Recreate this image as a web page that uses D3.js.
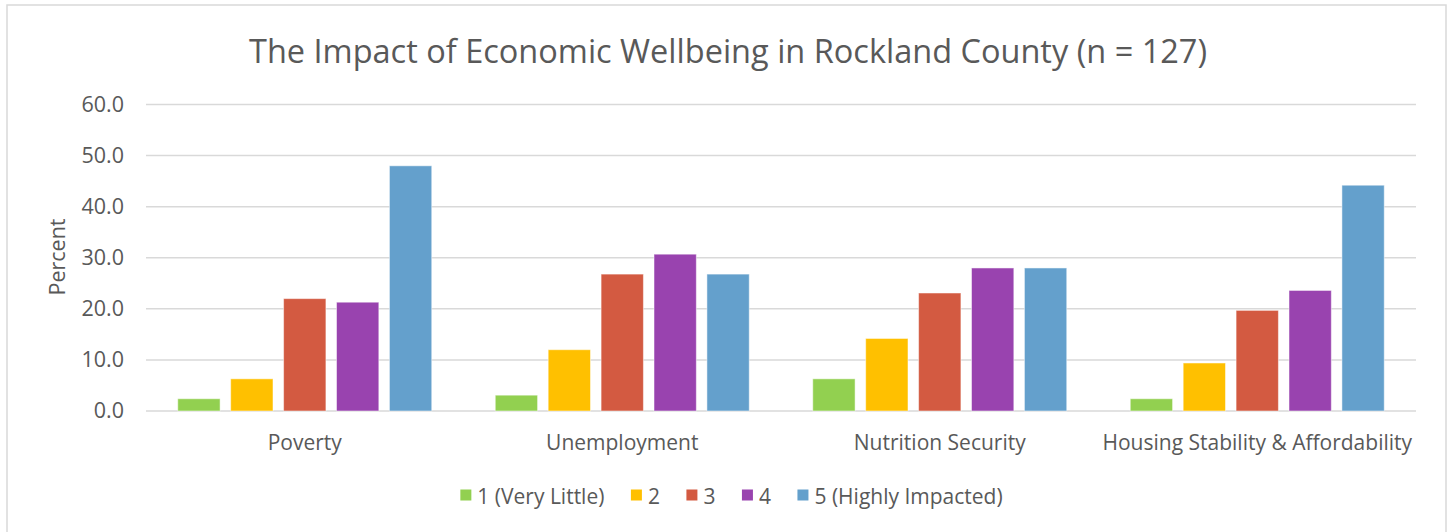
<!DOCTYPE html>
<html>
<head>
<meta charset="utf-8">
<script src="https://cdn.jsdelivr.net/npm/d3@7"></script>
<style>
  html, body { margin: 0; padding: 0; background: #fff; }
  svg { display: block; }
  text { font-family: "Open Sans", "Noto Sans", sans-serif; fill: #595959; }
</style>
</head>
<body>
<svg id="chart" width="1450" height="532"></svg>
<script>
const title = "The Impact of Economic Wellbeing in Rockland County (n = 127)";
const categories = ["Poverty", "Unemployment", "Nutrition Security", "Housing Stability & Affordability"];
const seriesNames = ["1 (Very Little)", "2", "3", "4", "5 (Highly Impacted)"];
const seriesColors = ["#92D050", "#FFC000", "#D35A41", "#9943AF", "#64A0CC"];
const s1 = [2.4, 3.1, 6.3, 2.4];
const s2 = [6.3, 12.0, 14.2, 9.4];
const s3 = [22.0, 26.8, 23.1, 19.7];
const s4 = [21.3, 30.7, 28.0, 23.6];
const s5 = [48.0, 26.8, 28.0, 44.2];
const seriesValues = [s1, s2, s3, s4, s5];
const yTicks = [0, 10, 20, 30, 40, 50, 60];
const yLabel = "Percent";

const svg = d3.select("#chart");

// chart border
svg.append("rect")
  .attr("x", 7).attr("y", 5).attr("width", 1439).attr("height", 540)
  .attr("fill", "none").attr("stroke", "#d9d9d9").attr("stroke-width", 1.5);

const x0 = d3.scaleBand().domain(categories).range([146, 1416]).padding(0);
const x1 = d3.scaleBand().domain(d3.range(seriesNames.length))
  .range([0, x0.bandwidth()]).paddingInner(0.2).paddingOuter(0.6);
const y = d3.scaleLinear().domain([0, 60]).range([411, 104.5]);

// title
svg.append("text")
  .attr("x", 728).attr("y", 63)
  .attr("text-anchor", "middle")
  .style("font-size", "32.5px")
  .text(title);

// gridlines + y axis
const yAxis = d3.axisLeft(y).tickValues(yTicks).tickFormat(d3.format(".1f")).tickSize(0).tickPadding(22);
const gy = svg.append("g").attr("transform", "translate(146,0)").call(yAxis);
gy.select(".domain").remove();
gy.selectAll("text").style("font-size", "21.5px").attr("fill", "#595959").attr("font-family", null);

svg.append("g").selectAll("line").data(yTicks).join("line")
  .attr("x1", 146).attr("x2", 1416)
  .attr("y1", d => y(d)).attr("y2", d => y(d))
  .attr("stroke", "#d9d9d9").attr("stroke-width", 1.5);

// y label
svg.append("text")
  .attr("transform", "translate(65,257) rotate(-90)")
  .attr("text-anchor", "middle")
  .style("font-size", "21.5px")
  .text(yLabel);

// bars
const groups = svg.append("g").selectAll("g").data(categories).join("g")
  .attr("transform", d => `translate(${x0(d)},0)`);
groups.selectAll("rect")
  .data((c, ci) => seriesValues.map((vals, si) => ({ si, v: vals[ci] })))
  .join("rect")
  .attr("x", d => x1(d.si))
  .attr("width", x1.bandwidth())
  .attr("y", d => y(d.v))
  .attr("height", d => y(0) - y(d.v))
  .attr("fill", d => seriesColors[d.si])
  .attr("stroke", "#ffffff").attr("stroke-opacity", 0.5).attr("stroke-width", 1);

// x axis labels
const xAxis = d3.axisBottom(x0).tickSize(0).tickPadding(24);
const gx = svg.append("g").attr("transform", "translate(0,411)").call(xAxis);
gx.select(".domain").remove();
gx.selectAll("text").style("font-size", "21px").attr("fill", "#595959").attr("font-family", null);

// legend
const legend = svg.append("g");
const items = legend.selectAll("g").data(seriesNames).join("g");
items.append("rect").attr("width", 11).attr("height", 11).attr("y", -11)
  .attr("fill", (d, i) => seriesColors[i]);
items.append("text").attr("x", 17).attr("y", 0).attr("dy", "0.15em")
  .style("font-size", "21px").text(d => d);
let cx = 0;
const gap = 26.5;
items.each(function () {
  const g = d3.select(this);
  const w = 17 + g.select("text").node().getComputedTextLength();
  g.attr("transform", `translate(${cx},500.5)`);
  cx += w + gap;
});
const totalW = cx - gap;
legend.attr("transform", `translate(${731.5 - totalW / 2},0)`);
</script>
</body>
</html>
